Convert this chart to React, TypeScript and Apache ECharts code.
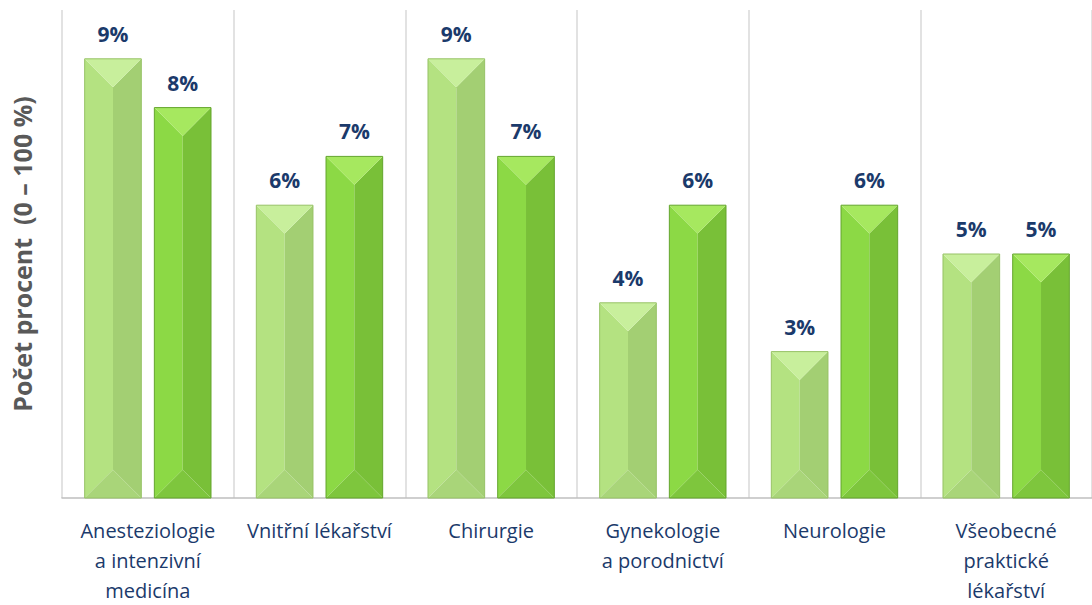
import React, { useEffect, useRef } from "react";
import * as echarts from "echarts";

const categories = [
  "Anesteziologie\na intenzivní\nmedicína",
  "Vnitřní lékařství",
  "Chirurgie",
  "Gynekologie\na porodnictví",
  "Neurologie",
  "Všeobecné\npraktické\nlékařství",
];
const seriesA = [9, 6, 9, 4, 3, 5];
const seriesB = [8, 7, 7, 6, 6, 5];
const yAxisTitle = "Počet procent  (0 – 100 %)";

const palettes = [
  { top: "#c8ef9c", left: "#b4e281", right: "#a3cf73", bottom: "#a9d579", edge: "#97c266" },
  { top: "#a6e85f", left: "#8cd945", right: "#79c038", bottom: "#7ec63d", edge: "#64a52d" },
];

function makeRender(si: number) {
  const pal = palettes[si];
  return (params: any, api: any) => {
    const idx = api.value(0);
    const v = api.value(1);
    const base = api.coord([idx, 0]);
    const top = api.coord([idx, v]);
    const catW = api.size([1, 0])[0];
    const bw = catW * 0.33;
    const off = catW * 0.203 * (si === 0 ? -1 : 1);
    const xc = base[0] + off;
    const x0 = xc - bw / 2;
    const x1 = xc + bw / 2;
    const y0 = top[1];
    const y1 = base[1];
    const h = y1 - y0;
    const d = Math.min(bw / 2, h / 2);
    return {
      type: "group",
      children: [
        {
          type: "polygon",
          shape: { points: [[x0, y0], [xc, y0 + d], [xc, y1 - d], [x0, y1]] },
          style: { fill: pal.left },
        },
        {
          type: "polygon",
          shape: { points: [[x1, y0], [xc, y0 + d], [xc, y1 - d], [x1, y1]] },
          style: { fill: pal.right },
        },
        {
          type: "polygon",
          shape: { points: [[x0, y0], [x1, y0], [xc, y0 + d]] },
          style: { fill: pal.top },
        },
        {
          type: "polygon",
          shape: { points: [[x0, y1], [x1, y1], [xc, y1 - d]] },
          style: { fill: pal.bottom },
        },
        {
          type: "rect",
          shape: { x: x0, y: y0, width: bw, height: h },
          style: { fill: "none", stroke: pal.edge, lineWidth: 1 },
        },
        {
          type: "text",
          style: {
            text: v + "%",
            x: xc,
            y: y0 - 25,
            align: "center",
            verticalAlign: "middle",
            textAlign: "center",
            textVerticalAlign: "middle",
            fill: "#1b3a6b",
            font: "bold 21px 'Open Sans', sans-serif",
          },
        },
      ],
    };
  };
}

export default function App() {
  const ref = useRef<HTMLDivElement>(null);
  useEffect(() => {
    document.body.style.margin = "0";
    document.body.style.overflow = "hidden";
    const chart = echarts.init(ref.current!, null, { renderer: "svg" });
    chart.setOption({
      animation: false,
      grid: { left: 62, top: 10, bottom: 100, width: 1037 },
      xAxis: {
        type: "category",
        data: categories,
        axisTick: { show: false },
        axisLine: { show: true, lineStyle: { color: "#bfbfbf", width: 1.5 } },
        splitLine: { show: true, lineStyle: { color: "#d9d9d9", width: 1.5 } },
        axisLabel: {
          interval: 0,
          color: "#1b3a6b",
          fontSize: 20,
          fontFamily: "'Open Sans', sans-serif",
          lineHeight: 30,
          margin: 17,
        },
      },
      yAxis: {
        type: "value",
        min: 0,
        max: 10,
        interval: 1,
        axisLabel: { show: false },
        axisLine: { show: false },
        axisTick: { show: false },
        splitLine: { show: false },
        name: yAxisTitle,
        nameLocation: "middle",
        nameGap: 28,
        nameTextStyle: {
          color: "#595959",
          fontSize: 25,
          fontWeight: "bold",
          fontFamily: "'Open Sans', sans-serif",
        },
      },
      series: [
        {
          type: "custom",
          renderItem: makeRender(0),
          encode: { x: 0, y: 1 },
          data: seriesA.map((v, i) => [i, v]),
        },
        {
          type: "custom",
          renderItem: makeRender(1),
          encode: { x: 0, y: 1 },
          data: seriesB.map((v, i) => [i, v]),
        },
      ],
    });
    return () => chart.dispose();
  }, []);
  return (
    <div
      ref={ref}
      style={{
        position: "absolute",
        left: 0,
        top: 0,
        width: 1092,
        height: 605,
        overflow: "hidden",
      }}
    />
  );
}
